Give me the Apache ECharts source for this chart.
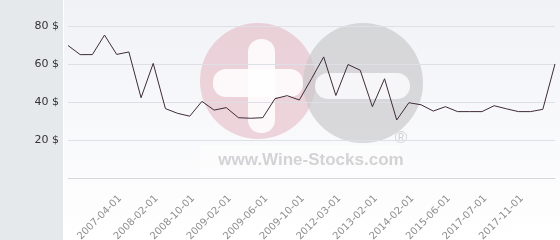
<!DOCTYPE html>
<html><head><meta charset="utf-8">
<script src="https://cdn.jsdelivr.net/npm/echarts@6/dist/echarts.min.js"></script>
<style>
html,body{margin:0;padding:0;}
#c{width:560px;height:240px;
background:linear-gradient(to right,#e6e9ec 0,#e6e9ec 63px,#ffffff 63px,#ffffff 64px,transparent 64px),linear-gradient(#f1f2f6,#ffffff);}
</style></head>
<body><div id="c"></div>
<script>
const categories = ['', '', '', '', '2007-04-01', '', '', '2008-02-01', '', '', '2008-10-01', '', '', '2009-02-01', '', '', '2009-06-01', '', '', '2009-10-01', '', '', '2012-03-01', '', '', '2013-02-01', '', '', '2014-02-01', '', '', '2015-06-01', '', '', '2017-07-01', '', '', '2017-11-01', '', '', ''];
const prices = [70, 65.2, 65.2, 75.5, 65.3, 66.6, 42.5, 60.6, 36.8, 34.3, 32.8, 40.6, 36, 37.3, 32, 31.7, 32, 42, 43.6, 41.3, 52.5, 64, 43.7, 60, 57, 37.8, 52.5, 30.8, 39.9, 38.8, 35.5, 37.8, 35.2, 35.2, 35.2, 38.3, 36.7, 35.2, 35.2, 36.4, 60.3];
const yTicks = [0, 20, 40, 60, 80];

const chart = echarts.init(document.getElementById('c'), null, {renderer: 'canvas'});
chart.setOption({
  backgroundColor: 'transparent',
  animation: false,
  grid: {left: 68, right: 5, top: 26.5, bottom: 61.5, containLabel: false, outerBoundsMode: 'none'},
  graphic: [
    {type: 'circle', z: 0, shape: {cx: 258, cy: 81, r: 58}, style: {fill: 'rgba(222,160,175,0.42)'}},
    {type: 'rect', z: 0, shape: {x: 248, y: 39, width: 27, height: 94, r: 13}, style: {fill: 'rgba(255,255,255,0.85)'}},
    {type: 'rect', z: 0, shape: {x: 213, y: 69, width: 90, height: 28, r: 13}, style: {fill: 'rgba(255,255,255,0.85)'}},
    {type: 'circle', z: 0, shape: {cx: 363, cy: 83, r: 60}, style: {fill: 'rgba(200,200,202,0.68)'}},
    {type: 'rect', z: 0, shape: {x: 315, y: 73, width: 95, height: 26, r: 13}, style: {fill: 'rgba(248,248,250,0.95)'}},
    {type: 'rect', z: 0, shape: {x: 200, y: 145, width: 200, height: 32}, style: {fill: 'rgba(255,255,255,0.4)'}},
    {type: 'text', z: 0, style: {x: 311, y: 160, text: 'www.Wine-Stocks.com', fill: 'rgba(200,200,204,0.8)', font: 'bold 17px "Liberation Sans", Arial, sans-serif', align: 'center', verticalAlign: 'middle'}},
    {type: 'text', z: 0, style: {x: 401, y: 138, text: '®', fill: 'rgba(200,200,204,0.8)', font: '17px "Liberation Sans", Arial, sans-serif', align: 'center', verticalAlign: 'middle'}}
  ],
  xAxis: {
    type: 'category', data: categories, boundaryGap: false,
    axisLine: {lineStyle: {color: '#d6d8dd'}},
    axisTick: {show: false},
    axisLabel: {interval: 0, rotate: 45, margin: 15, verticalAlign: 'top', color: '#8e8e8e', fontSize: 10, fontFamily: 'DejaVu Sans'}
  },
  yAxis: {
    type: 'value', min: yTicks[0], max: yTicks[yTicks.length - 1], interval: 20,
    axisLine: {show: false}, axisTick: {show: false},
    splitLine: {lineStyle: {color: '#dfe0e5'}},
    axisLabel: {showMinLabel: false, margin: 9, color: '#333', fontSize: 11, fontFamily: 'DejaVu Sans', formatter: '{value} $'}
  },
  series: [{
    type: 'line', data: prices, symbol: 'none', z: 5,
    lineStyle: {color: '#3d2a36', width: 1}
  }]
});
</script></body></html>
